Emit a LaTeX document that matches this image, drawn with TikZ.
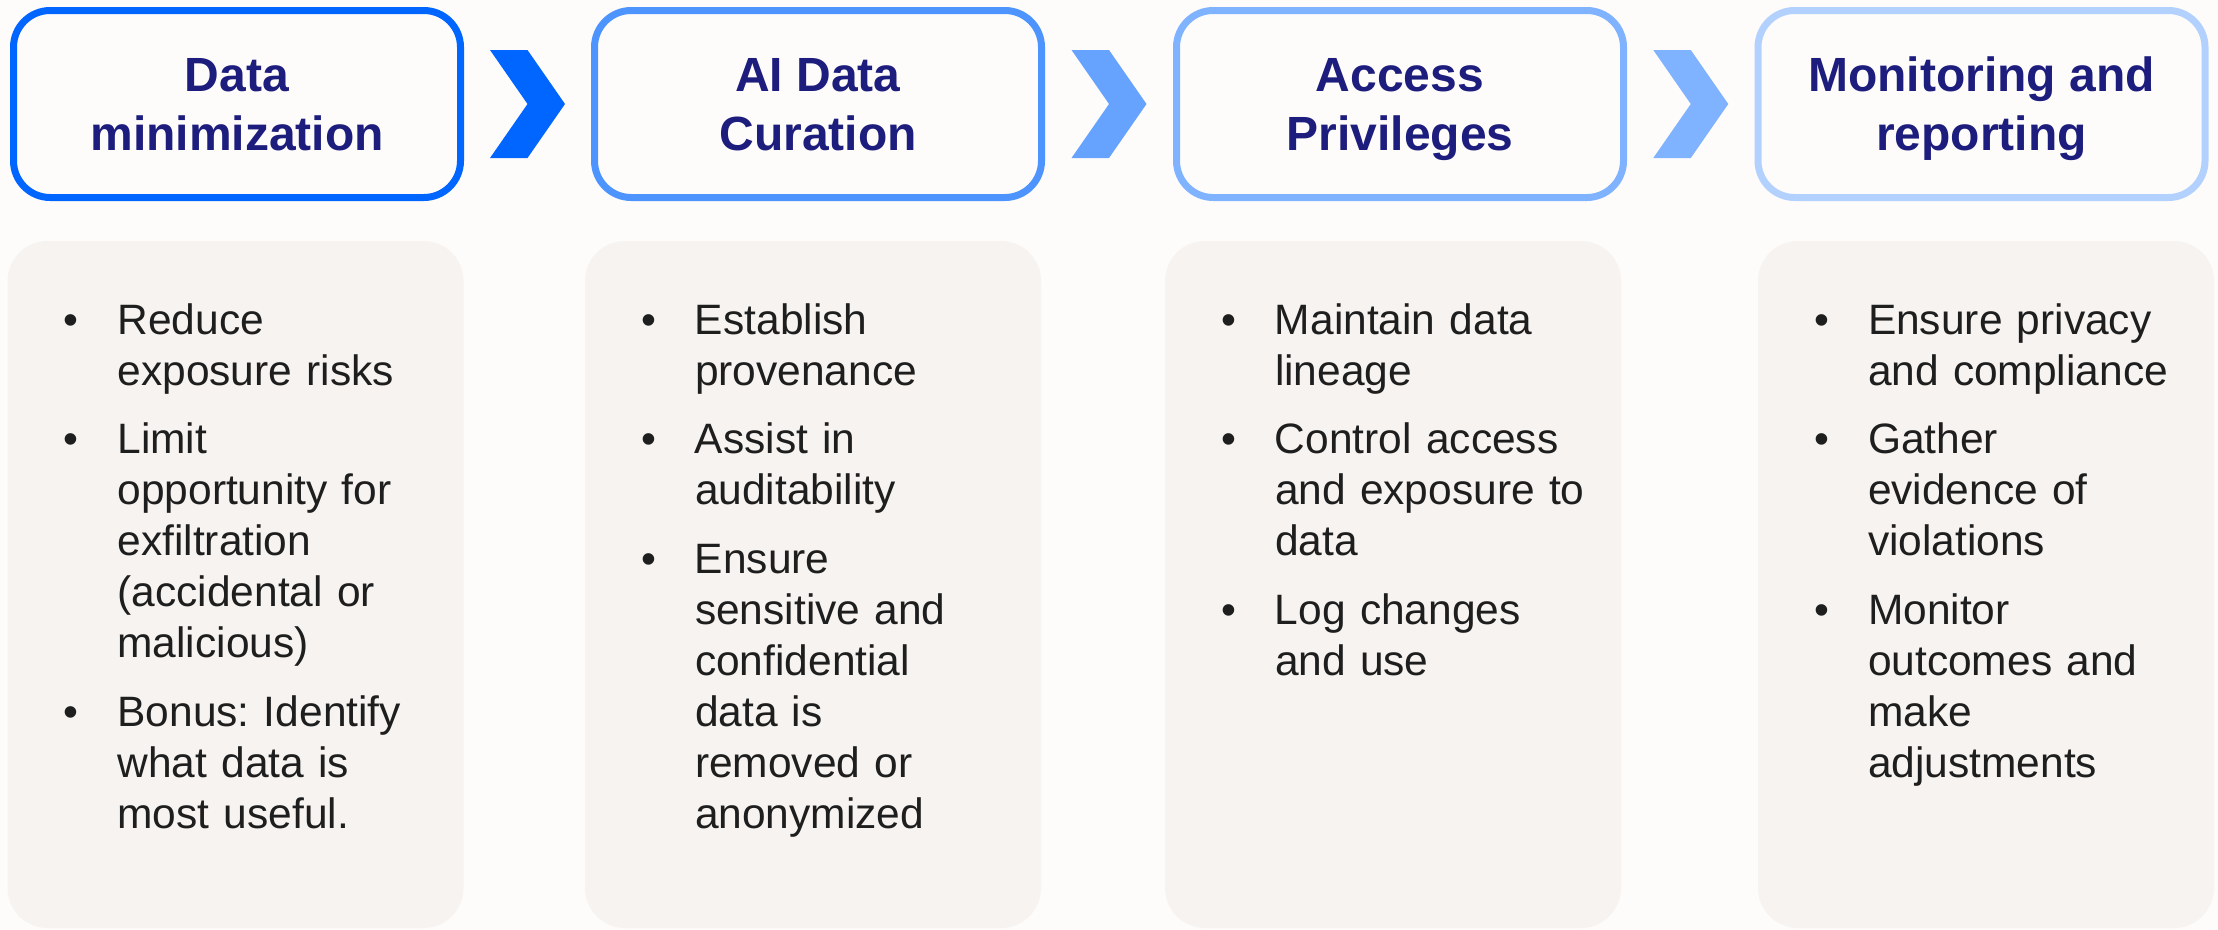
\documentclass[tikz,border=0pt]{standalone}
\usepackage{fontspec}
\setmainfont{Liberation Sans}
\usetikzlibrary{calc}
\frenchspacing
\definecolor{bgcol}{HTML}{FEFCFA}
\definecolor{panelcol}{HTML}{F6F3F0}
\definecolor{navy}{HTML}{1D1D7D}
\definecolor{inkcol}{HTML}{1E1E1E}
\definecolor{blueA}{HTML}{0066FF}
\definecolor{blueB}{HTML}{4D94FF}
\definecolor{blueC}{HTML}{80B3FF}
\definecolor{blueD}{HTML}{B3D1FF}
\definecolor{chevB}{HTML}{66A3FF}
\tikzset{
  stage/.style = {
    draw=#1, line width=2.1pt, fill=bgcol, rounded corners=11pt,
    minimum width=134.1pt, minimum height=56.1pt, inner sep=0pt,
    text=navy, align=center,
    font=\fontsize{14.4}{17.7}\selectfont\bfseries
  },
  panel/.style = {
    fill=panelcol, rounded corners=12pt,
    minimum width=136.8pt, minimum height=206.1pt, inner sep=0pt
  },
  points/.style = {
    anchor=base west, inner sep=0pt, text=inkcol, text width=118pt,
    font=\fontsize{12.75}{15.3}\selectfont
  }
}
\newcommand\bulletitem[1]{%
  \noindent\makebox[16.2pt][l]{\textbullet}%
  \begin{tabular}[t]{@{}l@{}}#1\end{tabular}\par\vspace{4.2pt}}

\begin{document}
\begin{tikzpicture}[x=0.3pt,y=-0.3pt]
  \fill[bgcol] (0,0) rectangle (2218,930);
  \useasboundingbox (0,0) rectangle (2218,930);
  % stages and their panels
  \foreach \n/\cx/\px/\col/\upper/\lower in {
      1/237/235.5/blueA/Data/minimization,
      2/818/813/blueB/AI Data/Curation,
      3/1400/1393/blueC/Access/Privileges,
      4/1981.5/1986/blueD/Monitoring and/reporting} {
    \node[stage=\col] (s\n) at (\cx,104) {\upper\\\smash{\lower}};
    \node[panel] (p\n) at (\px,584.5) {};
  }
  % chevrons between the stages
  \foreach \a/\b/\col in {1/2/blueA,2/3/chevB,3/4/blueC} {
    \path (s\a.east) -- (s\b.west) coordinate[midway] (m\a);
    \fill[\col] (m\a) ++(-37.5,-54) -- ++(37.5,0) -- ++(37.5,54)
      -- ++(-37.5,54) -- ++(-37.5,0) -- ++(37.5,-54) -- cycle;
  }
  \node[points] (l1) at ($(p1.north west)+(56,94)$) {%
    \bulletitem{Reduce\\exposure risks}
    \bulletitem{Limit\\opportunity for\\exfiltration\\(accidental or\\malicious)}
    \bulletitem{Bonus: Identify\\what data is\\most useful.}};
  \node[points] (l2) at ($(p2.north west)+(56,94)$) {%
    \bulletitem{Establish\\provenance}
    \bulletitem{Assist in\\auditability}
    \bulletitem{Ensure\\sensitive and\\confidential\\data is\\removed or\\anonymized}};
  \node[points] (l3) at ($(p3.north west)+(56,94)$) {%
    \bulletitem{Maintain data\\lineage}
    \bulletitem{Control access\\and exposure to\\data}
    \bulletitem{Log changes\\and use}};
  \node[points] (l4) at ($(p4.north west)+(56,94)$) {%
    \bulletitem{Ensure privacy\\and compliance}
    \bulletitem{Gather\\evidence of\\violations}
    \bulletitem{Monitor\\outcomes and\\make\\adjustments}};
\end{tikzpicture}
\end{document}
